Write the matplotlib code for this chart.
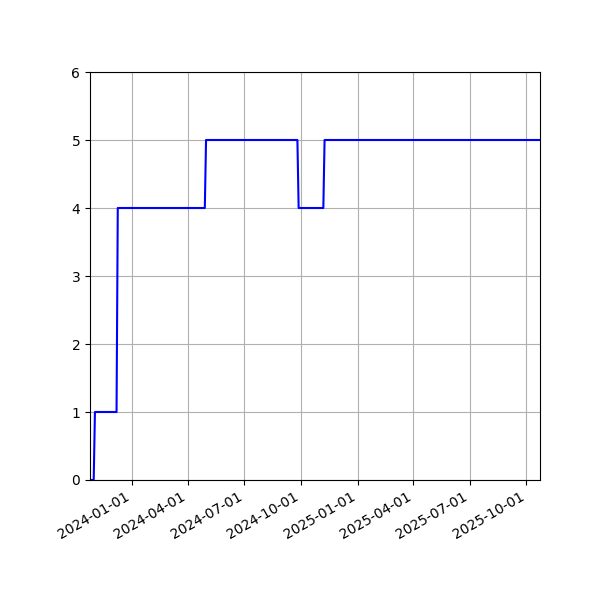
import matplotlib
matplotlib.use('Agg')
import matplotlib.pyplot as plt
import matplotlib.dates as mdates
import pandas as pd

# change points of the step series
dates = ['2023-10-25', '2023-10-31', '2023-11-02', '2023-12-07', '2023-12-09',
         '2024-04-28', '2024-04-30', '2024-09-25', '2024-09-27',
         '2024-11-06', '2024-11-08', '2025-10-23']
values = [0, 0, 1, 1, 4, 4, 5, 5, 4, 4, 5, 5]

x = pd.to_datetime(dates)

fig, ax = plt.subplots(figsize=(6, 6), dpi=100)
ax.plot(x, values, color='blue')

ax.set_xlim(x[0], x[-1])
ax.set_ylim(0, 6)
ax.xaxis.set_major_locator(mdates.MonthLocator(bymonth=[1, 4, 7, 10]))
ax.xaxis.set_major_formatter(mdates.DateFormatter('%Y-%m-%d'))
ax.grid(True)

fig.autofmt_xdate()
fig.subplots_adjust(left=0.15)

fig.savefig('out.png')
